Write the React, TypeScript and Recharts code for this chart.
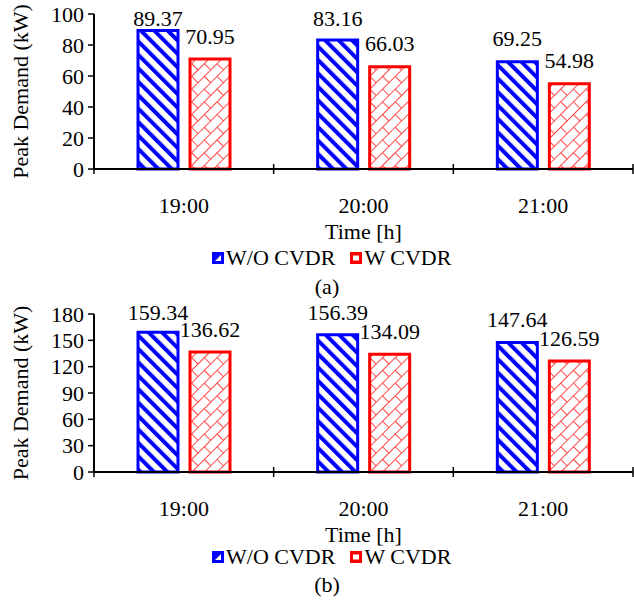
import { BarChart, Bar, XAxis, YAxis, LabelList } from 'recharts';

const hours = ['19:00', '20:00', '21:00'];

// (a)
const withoutCvdrA = [89.37, 83.16, 69.25];
const withCvdrA = [70.95, 66.03, 54.98];
const yTicksA = [0, 20, 40, 60, 80, 100];

// (b)
const withoutCvdrB = [159.34, 156.39, 147.64];
const withCvdrB = [136.62, 134.09, 126.59];
const yTicksB = [0, 30, 60, 90, 120, 150, 180];

const seriesNames = ['W/O CVDR', 'W CVDR'];

const FONT = '"Liberation Serif", "Times New Roman", serif';
const FS = 22;
const BLUE = '#0000ff';
const RED = '#ff0000';

const HourTick = (props: any) => {
  const { x, y, payload, index, visibleTicksCount } = props;
  const half = payload.offset || 0;
  const last = index === visibleTicksCount - 1;
  return (
    <g>
      <line x1={x - half} x2={x - half} y1={y - 5} y2={y + 5} stroke="#000" strokeWidth={1.5} />
      {last && <line x1={x + half} x2={x + half} y1={y - 5} y2={y + 5} stroke="#000" strokeWidth={1.5} />}
      <text x={x} y={y + 36} dy="0.35em" textAnchor="middle" fontSize={FS} fontFamily={FONT} fill="#000">
        {payload.value}
      </text>
    </g>
  );
};

function LegendIcon({ color }: { color: string }) {
  return (
    <svg width={12} height={12} style={{ display: 'block' }}>
      <rect x={0} y={0} width={12} height={12} fill={color} />
      {color === BLUE ? (
        <polygon points="3,3 9,9 3,9" fill="#fff" transform="rotate(-90 6 6)" />
      ) : (
        <rect x={3} y={3.5} width={6} height={5} fill="#fff" />
      )}
    </svg>
  );
}

interface PanelProps {
  id: string;
  top: number;
  plotTop: number;
  plotHeight: number;
  without: number[];
  withC: number[];
  ticks: number[];
  caption: string;
  legendY: number;
  captionY: number;
}

function Panel({ id, top, plotTop, plotHeight, without, withC, ticks, caption, legendY, captionY }: PanelProps) {
  const data = hours.map((h, i) => ({ hour: h, without: without[i], withC: withC[i] }));
  const axisH = 80;

  const valueLabel = (p: any) => {
    const vb = p.viewBox || p;
    const barTop = Math.min(vb.y, vb.y + vb.height);
    const ly = Math.max(barTop - 23, 18);
    return (
      <text x={vb.x + vb.width / 2} y={ly} dy="0.35em" textAnchor="middle" fontSize={FS} fontFamily={FONT} fill="#000">
        {p.value}
      </text>
    );
  };

  return (
    <div style={{ position: 'absolute', left: 0, top, width: 634 }}>
      <BarChart
        width={634}
        height={plotTop + plotHeight + axisH}
        data={data}
        margin={{ top: plotTop, right: 1, bottom: 0, left: 0 }}
        barSize={40}
        barGap={12}
      >
        <defs>
          <pattern id={`${id}-stripes`} patternUnits="userSpaceOnUse" width={9.5} height={10} patternTransform="rotate(-45)">
            <rect x={0} y={0} width={9.5} height={10} fill="#fff" />
            <rect x={0} y={0} width={4} height={10} fill={BLUE} />
          </pattern>
          <pattern id={`${id}-brick`} patternUnits="userSpaceOnUse" width={18} height={18} patternTransform="rotate(-45)">
            <rect x={0} y={0} width={18} height={18} fill="#fff" />
            <path d="M0 0.5H18M0 9.5H18M0.5 0V9M9.5 9V18" stroke="#ff4848" strokeWidth={1} fill="none" />
          </pattern>
        </defs>
        <XAxis
          dataKey="hour"
          height={axisH}
          interval={0}
          tickSize={0}
          tickMargin={0}
          tickLine={false}
          axisLine={{ stroke: '#000', strokeWidth: 2 }}
          tick={<HourTick />}
          label={(p: any) => {
            const vb = p.viewBox;
            return (
              <text x={vb.x + vb.width / 2} y={vb.y + 62} dy="0.35em" textAnchor="middle" fontSize={FS} fontFamily={FONT} fill="#000">
                Time [h]
              </text>
            );
          }}
        />
        <YAxis
          width={94}
          domain={[ticks[0], ticks[ticks.length - 1]]}
          ticks={ticks}
          interval={0}
          tickSize={6}
          tickMargin={4}
          tickLine={{ stroke: '#000', strokeWidth: 1.5 }}
          axisLine={{ stroke: '#000', strokeWidth: 2 }}
          tick={{ fill: '#000', fontSize: FS, fontFamily: FONT }}
          label={(p: any) => {
            const vb = p.viewBox;
            const cy = vb.y + vb.height / 2;
            return (
              <text x={20} y={cy} dy="0.35em" textAnchor="middle" fontSize={FS} fontFamily={FONT} fill="#000" transform={`rotate(-90 20 ${cy})`}>
                Peak Demand (kW)
              </text>
            );
          }}
        />
        <Bar dataKey="without" name={seriesNames[0]} fill={`url(#${id}-stripes)`} stroke={BLUE} strokeWidth={3} isAnimationActive={false}>
          <LabelList dataKey="without" content={valueLabel} />
        </Bar>
        <Bar dataKey="withC" name={seriesNames[1]} fill={`url(#${id}-brick)`} stroke={RED} strokeWidth={3} isAnimationActive={false}>
          <LabelList dataKey="withC" content={valueLabel} />
        </Bar>
      </BarChart>

      <div
        style={{
          position: 'absolute',
          left: 212,
          top: legendY - 12,
          height: 24,
          display: 'flex',
          alignItems: 'center',
          fontFamily: FONT,
          fontSize: FS,
          color: '#000',
          whiteSpace: 'nowrap',
        }}
      >
        <LegendIcon color={BLUE} />
        <span style={{ marginLeft: 2 }}>{seriesNames[0]}</span>
        <span style={{ width: 15 }} />
        <LegendIcon color={RED} />
        <span style={{ marginLeft: 2 }}>{seriesNames[1]}</span>
      </div>

      <div
        style={{
          position: 'absolute',
          left: 327,
          top: captionY - 12,
          transform: 'translateX(-50%)',
          fontFamily: FONT,
          fontSize: FS,
          lineHeight: '24px',
          color: '#000',
        }}
      >
        {caption}
      </div>
    </div>
  );
}

export default function App() {
  return (
    <div style={{ position: 'absolute', left: 0, top: 0, width: 634, height: 606, background: '#fff', overflow: 'hidden' }}>
      <Panel
        id="a"
        top={0}
        plotTop={14}
        plotHeight={155}
        without={withoutCvdrA}
        withC={withCvdrA}
        ticks={yTicksA}
        caption="(a)"
        legendY={258}
        captionY={287}
      />
      <Panel
        id="b"
        top={294}
        plotTop={20}
        plotHeight={158}
        without={withoutCvdrB}
        withC={withCvdrB}
        ticks={yTicksB}
        caption="(b)"
        legendY={263}
        captionY={291}
      />
    </div>
  );
}
